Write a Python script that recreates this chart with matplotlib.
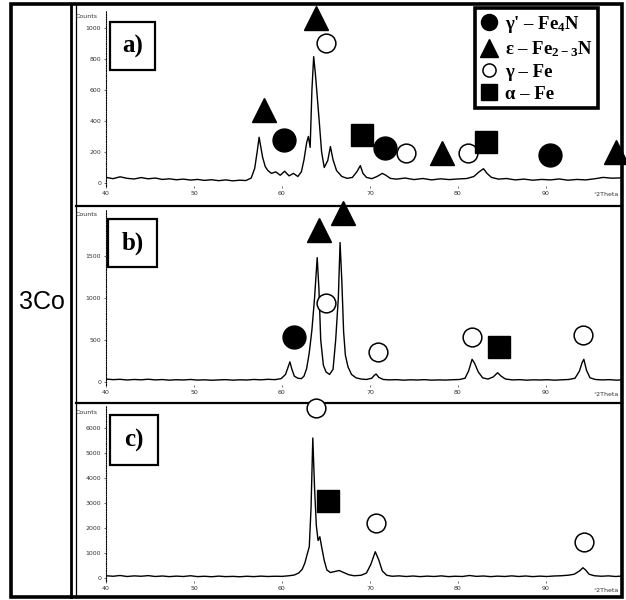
import matplotlib
matplotlib.use('Agg')
import matplotlib.pyplot as plt
from matplotlib.patches import Rectangle

plt.rcParams['mathtext.fontset'] = 'custom'
plt.rcParams['mathtext.rm'] = 'Liberation Serif:bold'
plt.rcParams['mathtext.bf'] = 'Liberation Serif:bold'
plt.rcParams['mathtext.it'] = 'Liberation Serif:bold'

W, H = 626, 600

# 2theta tick labels (same for all three patterns)
x_ticks = [40, 50, 60, 70, 80, 90]

# pattern a) : (2theta, counts)
profile_a = [(40.0, 36), (40.8, 28), (41.6, 40), (42.4, 30), (43.2, 26), (44.0, 35), (44.8, 27),
             (45.6, 32), (46.4, 23), (47.2, 27), (48.0, 21), (48.8, 25), (49.6, 19), (50.4, 23),
             (51.2, 17), (52.0, 21), (52.8, 15), (53.6, 20), (54.4, 14), (55.2, 18), (55.9, 16),
             (56.5, 32), (56.9, 95), (57.2, 210), (57.4, 295), (57.6, 230), (57.8, 165), (58.1, 105),
             (58.4, 80), (58.8, 62), (59.3, 72), (59.8, 50), (60.3, 76), (60.8, 46), (61.3, 62),
             (61.8, 42), (62.2, 72), (62.5, 150), (62.8, 260), (63.0, 300), (63.2, 230), (63.4, 600),
             (63.6, 815), (63.8, 700), (64.0, 560), (64.2, 420), (64.5, 200), (64.8, 100), (65.2, 145),
             (65.5, 235), (65.8, 150), (66.2, 80), (66.8, 42), (67.4, 30), (68.0, 36), (68.5, 72),
             (68.9, 112), (69.2, 62), (69.6, 36), (70.2, 28), (70.8, 42), (71.4, 62), (71.8, 50),
             (72.3, 30), (73.0, 25), (74.0, 32), (75.0, 22), (76.0, 29), (77.0, 20), (78.0, 27),
             (79.0, 22), (80.0, 26), (81.0, 29), (81.8, 42), (82.4, 72), (82.9, 92), (83.3, 62),
             (83.8, 36), (84.6, 25), (85.5, 29), (86.5, 20), (87.5, 25), (88.5, 18), (89.5, 23),
             (90.5, 20), (91.5, 26), (92.5, 18), (93.5, 23), (94.5, 20), (95.5, 27), (96.5, 36),
             (97.5, 31), (98.5, 33)]

# pattern b)
profile_b = [(40.0, 35), (40.8, 28), (41.6, 32), (42.4, 24), (43.2, 30), (44.0, 26), (44.8, 33),
             (45.6, 25), (46.4, 29), (47.2, 22), (48.0, 27), (48.8, 24), (49.6, 30), (50.4, 23),
             (51.2, 26), (52.0, 21), (52.8, 25), (53.6, 28), (54.4, 22), (55.2, 26), (56.0, 24),
             (56.8, 30), (57.6, 26), (58.4, 32), (59.2, 28), (59.9, 40), (60.4, 90), (60.7, 180),
             (60.9, 240), (61.1, 160), (61.4, 70), (61.8, 45), (62.2, 40), (62.5, 70), (62.8, 160),
             (63.1, 350), (63.4, 620), (63.7, 1000), (64.0, 1480), (64.2, 1100), (64.4, 500),
             (64.7, 200), (65.0, 120), (65.4, 90), (65.8, 150), (66.1, 500), (66.4, 1000),
             (66.6, 1660), (66.8, 1200), (67.0, 600), (67.2, 320), (67.5, 180), (67.9, 90),
             (68.4, 50), (69.0, 35), (69.6, 30), (70.2, 45), (70.5, 80), (70.7, 95), (71.0, 55),
             (71.5, 30), (72.2, 25), (73.0, 28), (73.8, 22), (74.6, 26), (75.4, 24), (76.2, 28),
             (77.0, 22), (77.8, 25), (78.6, 23), (79.4, 27), (80.2, 30), (80.8, 45), (81.2, 130),
             (81.6, 270), (81.9, 220), (82.3, 120), (82.8, 50), (83.4, 35), (84.0, 60), (84.5, 110),
             (84.9, 70), (85.4, 35), (86.2, 25), (87.0, 28), (87.8, 22), (88.6, 26), (89.4, 24),
             (90.2, 27), (91.0, 22), (91.8, 26), (92.6, 30), (93.3, 45), (93.8, 130), (94.1, 230),
             (94.3, 270), (94.6, 140), (95.0, 50), (95.6, 30), (96.4, 25), (97.2, 28), (98.0, 22),
             (98.5, 25)]

# pattern c)
profile_c = [(40.0, 90), (40.8, 70), (41.6, 100), (42.4, 60), (43.2, 85), (44.0, 70), (44.8, 95),
             (45.6, 60), (46.4, 80), (47.2, 55), (48.0, 75), (48.8, 60), (49.6, 90), (50.4, 55),
             (51.2, 70), (52.0, 50), (52.8, 75), (53.6, 55), (54.4, 65), (55.2, 50), (56.0, 70),
             (56.8, 55), (57.6, 75), (58.4, 60), (59.2, 70), (60.0, 65), (60.8, 90), (61.4, 120),
             (61.9, 200), (62.3, 350), (62.6, 600), (62.9, 1000), (63.1, 1250), (63.3, 2800),
             (63.5, 5600), (63.7, 3600), (63.9, 2100), (64.1, 1500), (64.3, 1650), (64.5, 1250),
             (64.8, 700), (65.1, 320), (65.5, 220), (66.0, 260), (66.5, 300), (67.0, 220),
             (67.6, 130), (68.2, 90), (69.0, 110), (69.6, 200), (70.1, 550), (70.6, 1050),
             (71.0, 720), (71.4, 280), (71.9, 110), (72.5, 70), (73.3, 85), (74.1, 60), (74.9, 80),
             (75.7, 55), (76.5, 75), (77.3, 60), (78.1, 85), (78.9, 55), (79.7, 70), (80.5, 60),
             (81.3, 100), (82.1, 65), (82.9, 80), (83.7, 55), (84.5, 75), (85.3, 60), (86.1, 85),
             (86.9, 60), (87.7, 80), (88.5, 55), (89.3, 75), (90.1, 60), (90.9, 80), (91.7, 90),
             (92.5, 110), (93.2, 150), (93.8, 280), (94.2, 410), (94.5, 320), (94.9, 150),
             (95.5, 90), (96.3, 70), (97.1, 85), (97.9, 60), (98.5, 75)]

# phase markers (2theta, counts) per pattern
a_gamma_prime = [(60.2, 277), (71.7, 226), (90.5, 181)]
a_epsilon = [(58.0, 471), (63.9, 1064), (78.2, 194), (98.0, 200)]
a_gamma = [(65.0, 903), (74.1, 194), (81.1, 194)]
a_alpha = [(69.1, 310), (83.2, 264)]

b_gamma_prime = [(61.4, 536)]
b_epsilon = [(64.2, 1809), (66.9, 2011)]
b_gamma = [(65.0, 940), (70.9, 357), (81.6, 536), (94.2, 559)]
b_alpha = [(84.7, 417)]

c_gamma_prime = []
c_epsilon = []
c_gamma = [(63.9, 6800), (70.7, 2200), (94.3, 1440)]
c_alpha = [(65.2, 3080)]

legend_labels = ["γ' – Fe$_{4}$N", "ε – Fe$_{2-3}$N", "γ – Fe", "α – Fe"]

y_ticks_a = [0, 200, 400, 600, 800, 1000]
y_ticks_b = [0, 500, 1000, 1500]
y_ticks_c = [0, 1000, 2000, 3000, 4000, 5000, 6000]


def box(x0, y0, x1, y1):
    return [x0 / W, 1 - y1 / H, (x1 - x0) / W, (y1 - y0) / H]


fig = plt.figure(figsize=(6.26, 6.0), dpi=100)
deco = fig.add_axes([0, 0, 1, 1])
deco.set_xlim(0, W)
deco.set_ylim(H, 0)
deco.axis('off')

# frame and separators
deco.add_patch(Rectangle((11, 4), 611, 593, fill=False, lw=2.6, ec='black'))
deco.plot([71, 71], [4, 597], color='black', lw=2.0)
deco.plot([76, 76], [4, 597], color='black', lw=0.9)
deco.plot([76, 622], [206, 206], color='black', lw=1.6)
deco.plot([76, 622], [403, 403], color='black', lw=1.6)
deco.text(42, 302, '3Co', ha='center', va='center', fontsize=18, family='Liberation Sans')

# (name, profile, top px, bottom px, baseline px, counts per px, y ticks, label box, markers)
panels = [
    ('a)', profile_a, 10, 186, 183, 6.45, y_ticks_a, (110, 22, 155, 70),
     (a_gamma_prime, a_epsilon, a_gamma, a_alpha)),
    ('b)', profile_b, 209, 385, 382, 11.9, y_ticks_b, (108, 219, 157, 267),
     (b_gamma_prime, b_epsilon, b_gamma, b_alpha)),
    ('c)', profile_c, 406, 581, 578, 40.0, y_ticks_c, (110, 415, 158, 465),
     (c_gamma_prime, c_epsilon, c_gamma, c_alpha)),
]

styles = [dict(marker='o', ms=16.5, mfc='black', mec='black'),
          dict(marker='^', ms=17.5, mfc='black', mec='black'),
          dict(marker='o', ms=13.5, mfc='white', mec='black', mew=1.1),
          dict(marker='s', ms=16, mfc='black', mec='black')]

handles = []
for k, (name, prof, top, bot, base, cpp, yt, lb, marks) in enumerate(panels):
    ax = fig.add_axes(box(106, top, 621, bot))
    ax.set_facecolor('none')
    ax.set_zorder(2)
    tt, cc = zip(*prof)
    ax.plot(tt, cc, color='black', lw=1.0)
    ax.set_xlim(40, 40 + (621 - 106) / 8.8)
    ax.set_ylim((base - bot) * cpp, (base - top) * cpp)
    for s in ['top', 'right', 'bottom']:
        ax.spines[s].set_visible(False)
    ax.spines['left'].set_linestyle((0, (1, 1.2)))
    ax.spines['left'].set_linewidth(0.8)
    ax.set_xticks(x_ticks)
    ax.set_yticks(yt)
    ax.tick_params(labelsize=4.5, length=1.5, width=0.5, pad=2, colors='#333333')
    for j, pts in enumerate(marks):
        if not pts:
            continue
        mx, my = zip(*pts)
        h, = ax.plot(mx, my, ls='none', clip_on=False, zorder=5, **styles[j])
        if k == 0:
            handles.append(h)

    deco.text(76, top + 6, 'Counts', fontsize=4.5, va='center', color='#333333')
    deco.text(619, base + 12, '°2Theta', fontsize=4.5, ha='right', va='center', color='#333333')
    x0, y0, x1, y1 = lb
    deco.add_patch(Rectangle((x0, y0), x1 - x0, y1 - y0, fill=False, lw=1.6, ec='black'))
    deco.text((x0 + x1) / 2, (y0 + y1) / 2, name, ha='center', va='center',
              fontsize=18, family='Liberation Serif', weight='bold')

    if k == 0:
        leg = ax.legend(handles, legend_labels, loc='upper left',
                        bbox_to_anchor=(475 / W, 1 - 8 / H), bbox_transform=fig.transFigure,
                        frameon=True, fancybox=False, edgecolor='black', framealpha=1,
                        borderpad=0.3, labelspacing=0.25, handlelength=0.9, handletextpad=0.4,
                        markerscale=0.7, borderaxespad=0,
                        prop={'family': 'Liberation Serif', 'weight': 'bold', 'size': 13.5})
        leg.get_frame().set_linewidth(2.6)
        leg.set_zorder(10)

fig.savefig('out.png', dpi=100)
